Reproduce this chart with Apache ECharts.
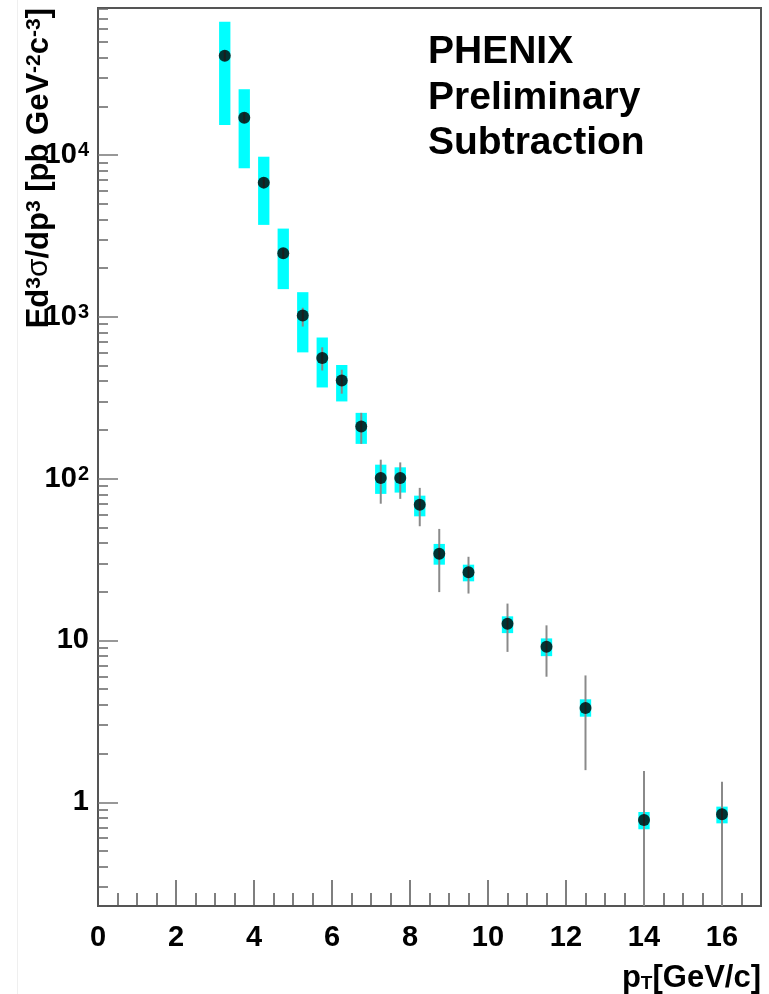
<!DOCTYPE html>
<html>
<head>
<meta charset="utf-8">
<script src="https://cdn.jsdelivr.net/npm/echarts@6/dist/echarts.min.js"></script>
<style>
html, body { margin: 0; padding: 0; background: #fff; }
#chart { width: 769px; height: 994px; }
</style>
</head>
<body>
<div id="chart"></div>
<script>
// pT bin centres [GeV/c]
var ptValues = [3.25, 3.75, 4.25, 4.75, 5.25, 5.75, 6.25, 6.75, 7.25, 7.75, 8.25, 8.75, 9.5, 10.5, 11.5, 12.5, 14, 16];
// Ed3sigma/dp3 [pb GeV^-2 c^-3]
var yieldValues = [41000, 17000, 6750, 2470, 1019, 556, 404, 210, 101, 101, 69, 34.4, 26.4, 12.7, 9.14, 3.83, 0.778, 0.843];
// systematic band (cyan boxes)
var sysLow = [15300, 8280, 3700, 1483, 603, 366, 300, 164, 80.5, 82, 58.5, 29.4, 23.2, 11.1, 8.0, 3.38, 0.681, 0.741];
var sysHigh = [66600, 25500, 9760, 3510, 1420, 745, 504, 255, 122, 117.5, 78.5, 39.5, 29.4, 14.1, 10.3, 4.33, 0.871, 0.94];
// statistical error bars
var statLow = [38000, 15800, 6300, 2300, 871, 466, 335, 164, 70, 75, 50.8, 19.9, 19.5, 8.5, 5.97, 1.58, 0.1, 0.1];
var statHigh = [44000, 18200, 7200, 2650, 1138, 648, 471, 255, 131, 126, 87.7, 48.9, 32.9, 16.9, 12.4, 6.08, 1.56, 1.34];

// axis ticks
var xMajorTicks = [0, 2, 4, 6, 8, 10, 12, 14, 16];
var xMinorTicks = [0.5, 1, 1.5, 2.5, 3, 3.5, 4.5, 5, 5.5, 6.5, 7, 7.5, 8.5, 9, 9.5, 10.5, 11, 11.5, 12.5, 13, 13.5, 14.5, 15, 15.5, 16.5];
var yMajorTicks = [1, 10, 100, 1000, 10000];
var yMinorTicks = [0.3, 0.4, 0.5, 0.6, 0.7, 0.8, 0.9,
    2, 3, 4, 5, 6, 7, 8, 9,
    20, 30, 40, 50, 60, 70, 80, 90,
    200, 300, 400, 500, 600, 700, 800, 900,
    2000, 3000, 4000, 5000, 6000, 7000, 8000, 9000,
    20000, 30000, 40000, 50000, 60000, 70000, 80000];

var X_MIN = 0, X_MAX = 17;
var Y_MIN = 0.2286, Y_MAX = 81000;
var FONT = "'Liberation Sans', Arial, Helvetica, sans-serif";
var BOX_HALF = 0.145; // half width of the cyan boxes in pT units

var sysData = ptValues.map(function(x, i) { return [x, sysLow[i], sysHigh[i]]; });
var statData = ptValues.map(function(x, i) { return [x, statLow[i], statHigh[i]]; });
var pointData = ptValues.map(function(x, i) { return [x, yieldValues[i]]; });

function renderSys(params, api) {
    var p1 = api.coord([api.value(0) - BOX_HALF, api.value(2)]);
    var p2 = api.coord([api.value(0) + BOX_HALF, api.value(1)]);
    return {
        type: 'rect',
        shape: { x: p1[0], y: p1[1], width: p2[0] - p1[0], height: p2[1] - p1[1] },
        style: { fill: '#00ffff' }
    };
}

function renderStat(params, api) {
    var x = api.value(0);
    var top = api.coord([x, api.value(2)]);
    var bot = api.coord([x, Math.max(api.value(1), Y_MIN)]);
    return {
        type: 'line',
        shape: { x1: top[0], y1: top[1], x2: bot[0], y2: bot[1] },
        style: { stroke: '#8a8a8a', lineWidth: 2 }
    };
}

function yLabel(v) {
    var exp = Math.round(Math.log(v) / Math.LN10);
    if (exp === 0) return '{n|1}';
    if (exp === 1) return '{n|10}';
    return '{n|10}{s|' + exp + '}';
}

var chart = echarts.init(document.getElementById('chart'));
var option = {
    animation: false,
    backgroundColor: '#fff',
    grid: {
        left: 98, right: 8, top: 8, bottom: 88,
        show: true, borderColor: '#555', borderWidth: 2, backgroundColor: 'transparent'
    },
    xAxis: [
        {
            type: 'value', min: X_MIN, max: X_MAX, position: 'bottom',
            axisLine: { onZero: false, lineStyle: { color: '#555', width: 2 } },
            axisTick: { inside: true, length: 26, customValues: xMajorTicks, lineStyle: { color: '#555', width: 1.5 } },
            axisLabel: {
                customValues: xMajorTicks, margin: 17,
                color: '#000', fontSize: 29, fontWeight: 'bold', fontFamily: FONT
            },
            splitLine: { show: false }
        },
        {
            type: 'value', min: X_MIN, max: X_MAX, position: 'bottom',
            axisLine: { show: false, onZero: false },
            axisTick: { inside: true, length: 13, customValues: xMinorTicks, lineStyle: { color: '#555', width: 1.5 } },
            axisLabel: { show: false },
            splitLine: { show: false }
        }
    ],
    yAxis: [
        {
            type: 'log', logBase: 10, min: Y_MIN, max: Y_MAX, position: 'left',
            axisLine: { onZero: false, lineStyle: { color: '#555', width: 2 } },
            axisTick: { inside: true, length: 20, customValues: yMajorTicks, lineStyle: { color: '#777', width: 1.5 } },
            axisLabel: {
                customValues: yMajorTicks, margin: 9,
                formatter: yLabel,
                rich: {
                    n: { color: '#000', fontSize: 29, fontWeight: 'bold', fontFamily: FONT },
                    s: { color: '#000', fontSize: 20, fontWeight: 'bold', fontFamily: FONT, verticalAlign: 'top', padding: [0, 0, 0, 1] }
                }
            },
            splitLine: { show: false }
        },
        {
            type: 'log', logBase: 10, min: Y_MIN, max: Y_MAX, position: 'left',
            axisLine: { show: false, onZero: false },
            axisTick: { inside: true, length: 10, customValues: yMinorTicks, lineStyle: { color: '#666', width: 1.5 } },
            axisLabel: { show: false },
            splitLine: { show: false }
        }
    ],
    series: [
        {
            name: 'sys', type: 'custom', renderItem: renderSys,
            encode: { x: 0, y: [1, 2] }, data: sysData, z: 2
        },
        {
            name: 'stat', type: 'custom', renderItem: renderStat,
            encode: { x: 0, y: [1, 2] }, data: statData, z: 3
        },
        {
            name: 'points', type: 'scatter', symbol: 'circle', symbolSize: 12,
            itemStyle: { color: '#000' }, data: pointData, z: 4
        }
    ],
    graphic: [
        {
            type: 'line', shape: { x1: 17.5, y1: 0, x2: 17.5, y2: 994 },
            style: { stroke: '#efefef', lineWidth: 1 }, silent: true
        },
        {
            type: 'text', x: 39, y: 8, rotation: Math.PI / 2,
            style: {
                text: '{b|Ed}{s|3}{g|σ}{b|/dp}{s|3}{b| [pb GeV}{s|-2}{b|c}{s|-3}{b|]}',
                align: 'right', verticalAlign: 'middle',
                rich: {
                    b: { fontSize: 31, fontWeight: 'bold', fontFamily: FONT, fill: '#000' },
                    g: { fontSize: 30, fontFamily: FONT, fill: '#000' },
                    s: { fontSize: 21, fontWeight: 'bold', fontFamily: FONT, fill: '#000', verticalAlign: 'top' }
                }
            }
        },
        {
            type: 'text', x: 761, y: 978,
            style: {
                text: '{b|p}{t|T}{b|[GeV/c]}',
                align: 'right', verticalAlign: 'middle',
                rich: {
                    b: { fontSize: 31, fontWeight: 'bold', fontFamily: FONT, fill: '#000' },
                    t: { fontSize: 19, fontWeight: 'bold', fontFamily: FONT, fill: '#000', verticalAlign: 'bottom' }
                }
            }
        },
        {
            type: 'text', x: 428, y: 52,
            style: { text: 'PHENIX', fontSize: 39, fontWeight: 'bold', fontFamily: FONT, fill: '#000', verticalAlign: 'middle' }
        },
        {
            type: 'text', x: 428, y: 98,
            style: { text: 'Preliminary', fontSize: 39, fontWeight: 'bold', fontFamily: FONT, fill: '#000', verticalAlign: 'middle' }
        },
        {
            type: 'text', x: 428, y: 143,
            style: { text: 'Subtraction', fontSize: 39, fontWeight: 'bold', fontFamily: FONT, fill: '#000', verticalAlign: 'middle' }
        }
    ]
};
chart.setOption(option);
</script>
</body>
</html>
